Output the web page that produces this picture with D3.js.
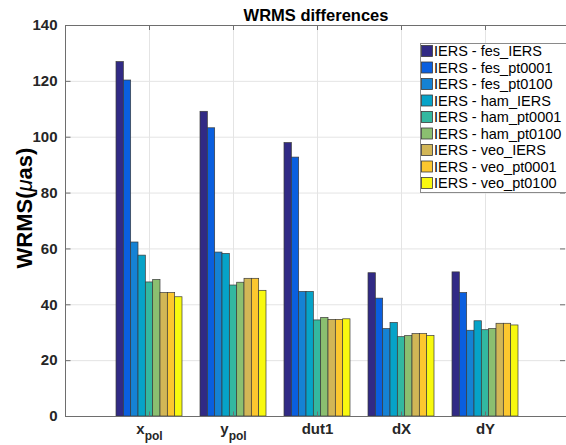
<!DOCTYPE html>
<html>
<head>
<meta charset="utf-8">
<script src="https://cdn.jsdelivr.net/npm/d3@7"></script>
<style>
  html, body { margin: 0; padding: 0; background: #fff; }
  svg { display: block; font-family: "Liberation Sans", Arial, sans-serif; }
</style>
</head>
<body>
<svg id="chart" width="566" height="445"></svg>
<script>
// categories and series
const categories = ["xpol", "ypol", "dut1", "dX", "dY"];
const series = [
  "IERS - fes_IERS", "IERS - fes_pt0001", "IERS - fes_pt0100",
  "IERS - ham_IERS", "IERS - ham_pt0001", "IERS - ham_pt0100",
  "IERS - veo_IERS", "IERS - veo_pt0001", "IERS - veo_pt0100",
];
const colors = [
  "#312a85", "#0a5fdf", "#1582d4", "#06a3c8", "#33b8a0",
  "#8bbf70", "#d2b656", "#fcc72f", "#f8f90f",
];

// WRMS values (µas), one array per category, in series order
const xpol = [126.9, 120.3, 62.3, 57.6, 48.0, 48.9, 44.2, 44.2, 42.7];
const ypol = [109.1, 103.2, 58.7, 58.2, 46.9, 47.9, 49.3, 49.3, 45.0];
const dut1 = [97.9, 92.7, 44.6, 44.6, 34.4, 35.3, 34.6, 34.6, 34.8];
const dX = [51.3, 42.2, 31.3, 33.5, 28.4, 28.8, 29.5, 29.5, 28.8];
const dY = [51.6, 44.2, 30.7, 34.1, 30.9, 31.3, 33.2, 33.2, 32.6];
const values = [xpol, ypol, dut1, dX, dY];

const yTicks = [0, 20, 40, 60, 80, 100, 120, 140];

const svg = d3.select("#chart");
const plot = { left: 65, right: 569, top: 25, bottom: 416 };

const x = d3.scalePoint().domain(categories).range([plot.left, plot.right]).padding(1);
const inner = d3.scaleBand().domain(series).range([-33, 33]).paddingInner(0);
const y = d3.scaleLinear().domain([0, 140]).range([plot.bottom, plot.top]);

// grid
const grid = svg.append("g").attr("stroke", "#e4e4e4").attr("stroke-width", 1);
grid.selectAll("line.h").data(yTicks.slice(1, -1)).join("line")
  .attr("x1", plot.left).attr("x2", plot.right)
  .attr("y1", (d) => y(d) + 0.5).attr("y2", (d) => y(d) + 0.5);
grid.selectAll("line.v").data(categories).join("line")
  .attr("y1", plot.top).attr("y2", plot.bottom)
  .attr("x1", (d) => x(d) + 0.5).attr("x2", (d) => x(d) + 0.5);

// bars
const cells = categories.flatMap((c, i) =>
  series.map((s, j) => ({ cat: c, s, color: colors[j], value: values[i][j] }))
);
svg.append("g").selectAll("rect").data(cells).join("rect")
  .attr("x", (d) => x(d.cat) + inner(d.s))
  .attr("width", inner.bandwidth())
  .attr("y", (d) => y(d.value))
  .attr("height", (d) => y(0) - y(d.value))
  .attr("fill", (d) => d.color)
  .attr("stroke", "#3a3a3a")
  .attr("stroke-width", 0.7);

// box
svg.append("rect")
  .attr("x", plot.left + 0.5).attr("y", plot.top + 0.5)
  .attr("width", plot.right - plot.left).attr("height", plot.bottom - plot.top)
  .attr("fill", "none").attr("stroke", "#6e6e6e").attr("stroke-width", 1);

// y axis
const yAxis = svg.append("g")
  .attr("transform", `translate(${plot.left + 0.5},0)`)
  .call(d3.axisLeft(y).tickValues(yTicks).tickSizeInner(-5).tickSizeOuter(0).tickPadding(8));
yAxis.select(".domain").remove();
yAxis.selectAll("line").attr("stroke", "#6e6e6e");
yAxis.selectAll("text")
  .style("font-size", "15px").style("font-weight", "bold")
  .style("font-family", "Liberation Sans, Arial, sans-serif").attr("fill", "#262626");

// right ticks
svg.append("g").selectAll("line").data(yTicks).join("line")
  .attr("x1", 565).attr("x2", 560)
  .attr("y1", (d) => y(d) + 0.5).attr("y2", (d) => y(d) + 0.5)
  .attr("stroke", "#6e6e6e");
// top ticks
svg.append("g").selectAll("line").data(categories).join("line")
  .attr("x1", (d) => x(d) + 0.5).attr("x2", (d) => x(d) + 0.5)
  .attr("y1", plot.top).attr("y2", plot.top + 5)
  .attr("stroke", "#6e6e6e");

// x axis
const xAxis = svg.append("g")
  .attr("transform", `translate(0,${plot.bottom + 0.5})`)
  .call(d3.axisBottom(x).tickSizeInner(-5).tickSizeOuter(0).tickPadding(7));
xAxis.select(".domain").remove();
xAxis.selectAll("line").attr("stroke", "#6e6e6e");
xAxis.selectAll("text")
  .style("font-size", "15px").style("font-weight", "bold")
  .style("font-family", "Liberation Sans, Arial, sans-serif").attr("fill", "#262626")
  .each(function (d) {
    if (d === "xpol" || d === "ypol") {
      const t = d3.select(this).text(null);
      t.append("tspan").text(d[0]);
      t.append("tspan").attr("dy", "0.45em").style("font-size", "12px").text("pol");
    }
  });

// title
svg.append("text")
  .attr("x", 316).attr("y", 20.5)
  .attr("text-anchor", "middle")
  .style("font-size", "16.5px").style("font-weight", "bold")
  .attr("fill", "#000")
  .text("WRMS differences");

// y label
const yl = svg.append("text")
  .attr("transform", "translate(32,208) rotate(-90)")
  .attr("text-anchor", "middle")
  .style("font-size", "22px").style("font-weight", "bold")
  .attr("fill", "#000");
yl.append("tspan").text("WRMS(");
yl.append("tspan").style("font-style", "italic").style("font-weight", "normal").text("\u03bc");
yl.append("tspan").text("as)");

// legend
const leg = svg.append("g").attr("transform", "translate(420,43)");
leg.append("rect")
  .attr("x", 0.5).attr("y", 0.5).attr("width", 150).attr("height", 149)
  .attr("fill", "#fff").attr("stroke", "#8a8a8a");
const rows = leg.selectAll("g.row").data(series).join("g")
  .attr("transform", (d, i) => `translate(0,${8 + i * 16.5})`);
rows.append("rect")
  .attr("x", 1.5).attr("y", -5.5).attr("width", 11).attr("height", 11)
  .attr("fill", (d, i) => colors[i]).attr("stroke", "#3a3a3a").attr("stroke-width", 0.8);
rows.append("text")
  .attr("x", 14).attr("y", 5.3)
  .style("font-size", "14.5px").attr("fill", "#000")
  .text((d) => d);
</script>
</body>
</html>
